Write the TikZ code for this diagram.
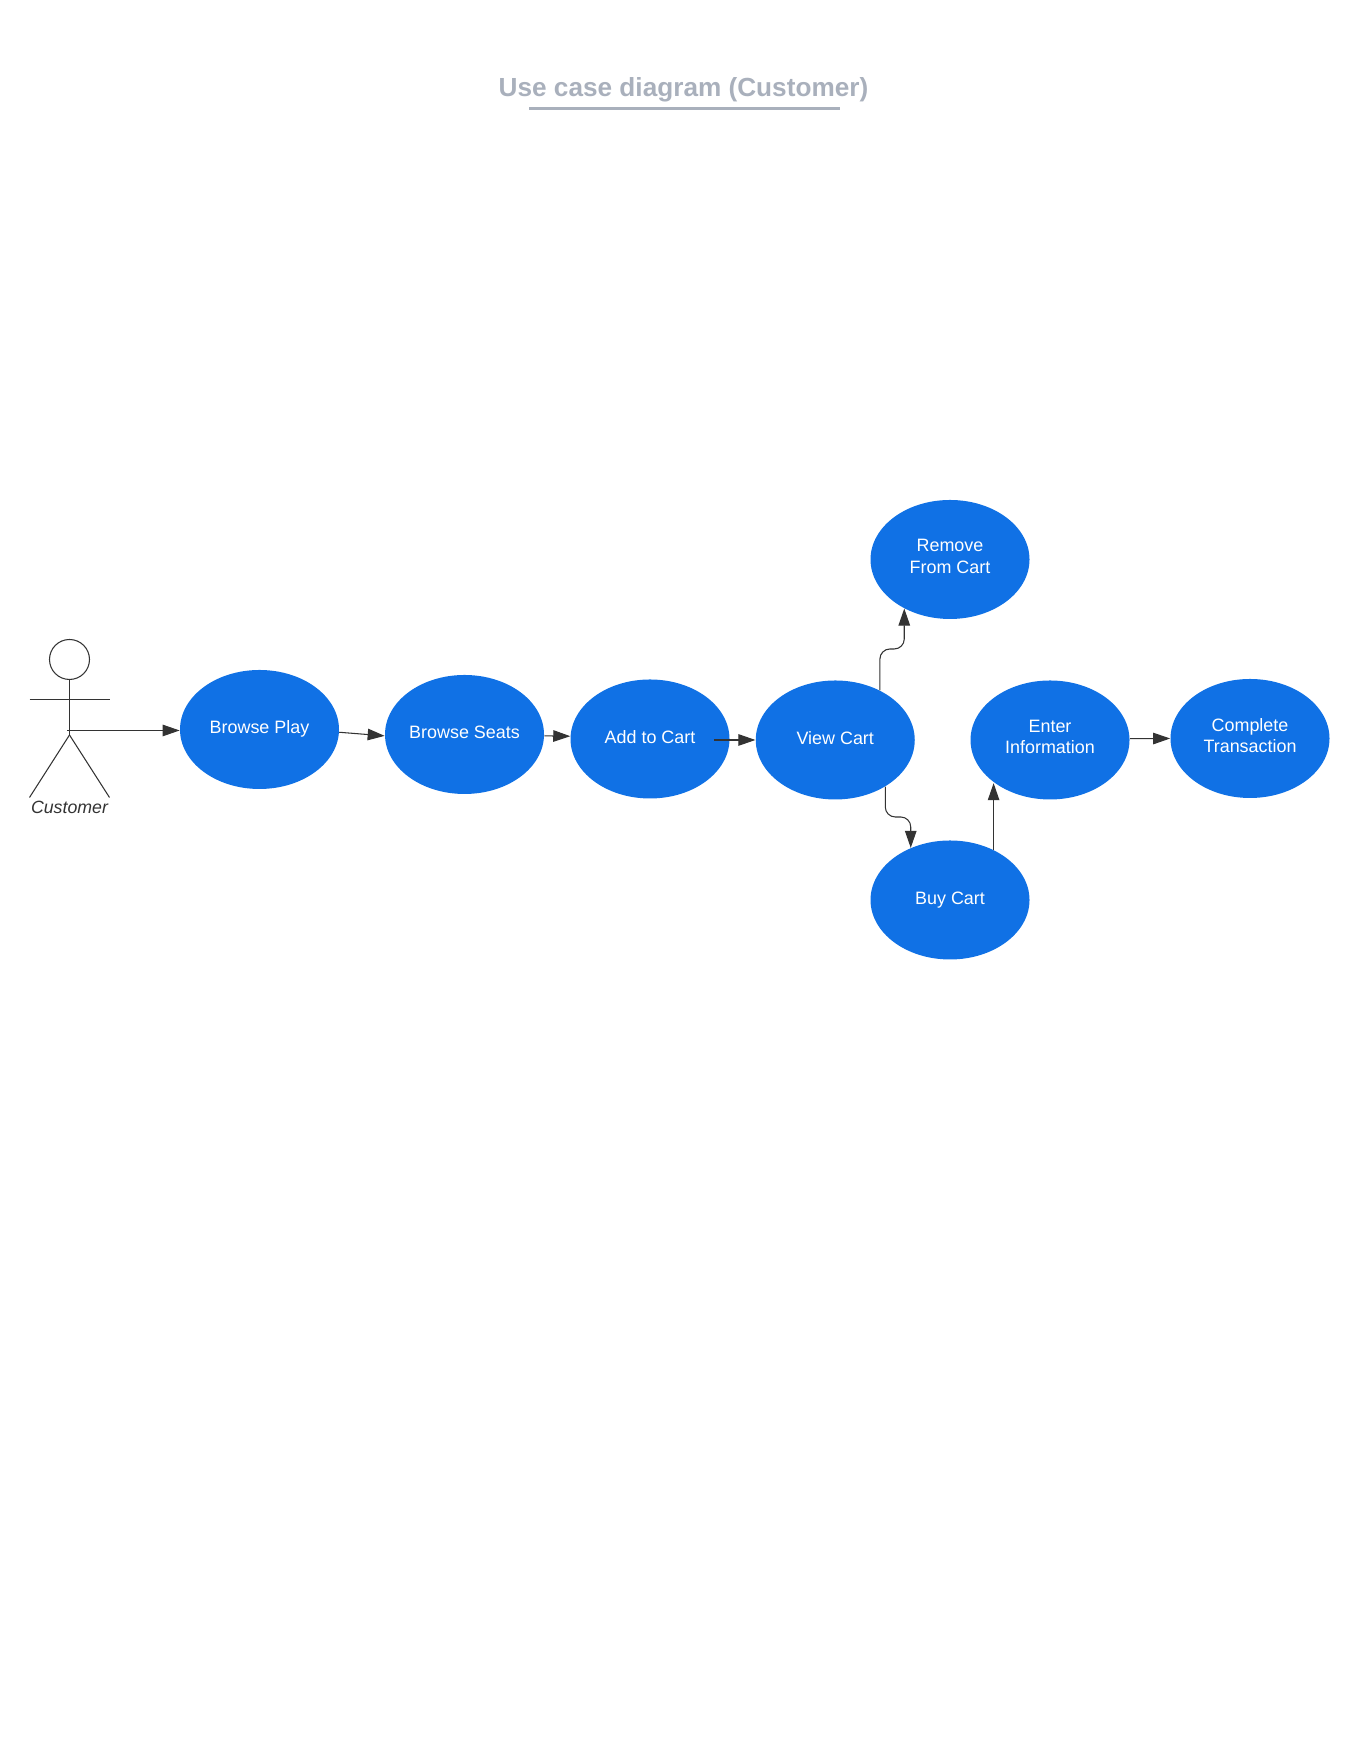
\documentclass[tikz,border=0pt]{standalone}
\usepackage{fontspec}
\setmainfont{Liberation Sans}
\usetikzlibrary{shapes.geometric,arrows.meta}
\definecolor{casefill}{HTML}{1071E5}
\definecolor{inkline}{HTML}{333333}
\definecolor{titlegray}{HTML}{A9B0BC}

\begin{document}
\begin{tikzpicture}
[
    usecase/.style={shape=ellipse, fill=casefill, text=white, inner sep=0pt, minimum width=3.18cm, minimum height=2.38cm, align=center, font=\fontsize{10.2}{12.1}\selectfont, execute at begin node=\strut, execute at end node=\strut},
    twolines/.style={usecase, execute at end node={\rule[-2.2pt]{0pt}{1pt}}},
    flow/.style={draw=inkline, line width=.6pt, -{Triangle[length=.34cm, width=.23cm]}},
    bentflow/.style={flow, rounded corners=.2cm},
    actorline/.style={draw=inkline, line width=.6pt},
]
\useasboundingbox (0,0) rectangle (27.2,35.2);

\node(title) at (13.67,33.395) [text=titlegray, font=\fontsize{14.9}{17}\selectfont\bfseries]{Use case diagram (Customer)};
\coordinate(titleleft) at (10.58,33.03);
\coordinate(titleright) at (16.8,33.03);
\draw[draw=titlegray, line width=1.25pt] (titleleft) to (titleright);

% actor
\node(head) at (1.39,22.01) [shape=circle, draw=inkline, line width=.6pt, minimum size=.8cm, inner sep=0pt]{};
\coordinate(hip) at (1.39,20.5);
\coordinate(armleft) at (.59,21.21);
\coordinate(armright) at (2.19,21.21);
\coordinate(footleft) at (.59,19.25);
\coordinate(footright) at (2.19,19.25);
\coordinate(hand) at (1.34,20.59);
\draw[actorline] (head.south) to (hip);
\draw[actorline] (armleft) to (armright);
\draw[actorline] (footleft) to (hip);
\draw[actorline] (hip) to (footright);
\node(customer) at (1.39,19.06) [text=inkline, font=\fontsize{10.1}{12}\selectfont\itshape]{Customer};

% use cases
\node(browseplay) at (5.19,20.61) [usecase]{Browse Play};
\node(browseseats) at (9.29,20.51) [usecase]{Browse Seats};
\node(addcart) at (13,20.42) [usecase]{Add to Cart};
\node(viewcart) at (16.705,20.4) [usecase]{View Cart};
\node(enterinfo) at (21,20.4) [twolines]{Enter\\Information};
\node(complete) at (25,20.43) [twolines]{Complete\\Transaction};
\node(removecart) at (19,24.01) [twolines]{Remove\\From Cart};
\node(buycart) at (19,17.2) [usecase]{Buy Cart};

\coordinate(addcartout) at (14.28,20.4);
\coordinate(removebend) at (17.83,22.22);
\coordinate(buybend) at (17.96,18.86);

\draw[flow] (hand) to (hand -| browseplay.west);
\draw[flow] (browseplay.-2) to (browseseats.181);
\draw[flow] (browseseats.-1) to (addcart.178);
\draw[flow] (addcartout) to (viewcart.west);
\draw[bentflow] (viewcart.48) -- (viewcart.48 |- removebend) -- (removecart.227 |- removebend) -- (removecart.227);
\draw[bentflow] (viewcart.317) -- (viewcart.317 |- buybend) -- (buycart.127 |- buybend) -- (buycart.127);
\draw[flow] (buycart.49) to (buycart.49 |- enterinfo.218);
\draw[flow] (enterinfo.1) to (complete.180);

\end{tikzpicture}
\end{document}
